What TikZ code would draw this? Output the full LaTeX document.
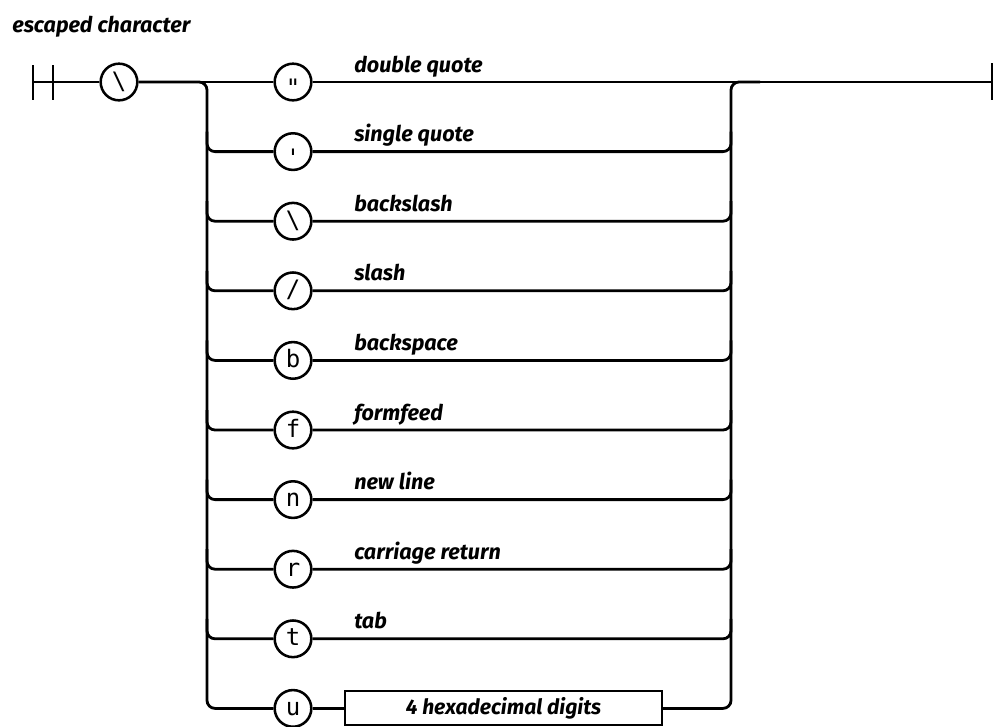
\documentclass[tikz,border=0pt]{standalone}
\usepackage{fontspec}
\newfontfamily\lblfont{Fira Sans}
\newfontfamily\chfont{DejaVu Sans Mono}
\begin{document}
\begin{tikzpicture}[x=0.75pt,y=-0.75pt,
  track/.style={line width=2.1pt, line join=round, line cap=butt},
  term/.style={circle, draw, line width=1.9pt, minimum size=27.5pt, inner sep=0pt,
    text height=12pt, text depth=1.5pt, font=\chfont\fontsize{18}{18}\selectfont},
  quoteterm/.style={term, text height=22pt, text depth=0pt},
  lbl/.style={anchor=base west, inner sep=0pt,
    font=\lblfont\bfseries\itshape\fontsize{16.2}{16.2}\selectfont},
  hexbox/.style={draw, line width=1.6pt, minimum width=237.75pt, minimum height=25.5pt,
    inner sep=0pt, font=\lblfont\bfseries\itshape\fontsize{15.8}{15.8}\selectfont}]
\useasboundingbox (0,0) rectangle (1005,726);

% title
\node[lbl] (title) at (12,32) {escaped character};

% start and end bars
\coordinate (s1t) at (33,65); \coordinate (s1b) at (33,100);
\coordinate (s2t) at (53,65); \coordinate (s2b) at (53,100);
\coordinate (s1) at (33,82);
\coordinate (et) at (992,63); \coordinate (eb) at (992,100);
\coordinate (e) at (992,82);
\draw[track] (s1t) -- (s1b);
\draw[track] (s2t) -- (s2b);

% terminals
\node[term] (esc) at (119,82) {\textbackslash};
\node[quoteterm] (c0) at (293,82) {\symbol{"22}};
\node[quoteterm] (c1) at (293,151.6) {\symbol{"27}};
\node[term] (c2) at (293,221.2) {\textbackslash};
\node[term] (c3) at (293,290.8) {/};
\node[term] (c4) at (293,360.4) {b};
\node[term] (c5) at (293,430) {f};
\node[term] (c6) at (293,499.6) {n};
\node[term] (c7) at (293,569.2) {r};
\node[term] (c8) at (293,638.8) {t};
\node[term] (c9) at (293,708.4) {u};
\node[hexbox] (hex) at (503.5,708.4) {4 hexadecimal digits};

% labels
\node[lbl] (l0) at (354,72) {double quote};
\node[lbl] (l1) at (354,141.6) {single quote};
\node[lbl] (l2) at (354,211.2) {backslash};
\node[lbl] (l3) at (354,280.8) {slash};
\node[lbl] (l4) at (354,350.4) {backspace};
\node[lbl] (l5) at (354,420) {formfeed};
\node[lbl] (l6) at (354,489.6) {new line};
\node[lbl] (l7) at (354,559.2) {carriage return};
\node[lbl] (l8) at (354,628.8) {tab};

% main line
\draw[track] (s1) -- (esc.west);
\draw[track] (esc.east) -- (c0.west);
\draw[track] (c0.east) -- (e);
\draw[track] (et) -- (eb);

% left split and right merge of rows 1..8
\draw[track, rounded corners=6pt] (esc.east) -- (207,82) -- (207,708.4) -- (c9.west);
\foreach \i/\y in {1/151.6,2/221.2,3/290.8,4/360.4,5/430,6/499.6,7/569.2,8/638.8}{
  \draw[track, rounded corners=6pt] (207,\y-20) -- (207,\y) -- (c\i.west);
  \draw[track, rounded corners=6pt] (c\i.east) -- (731,\y) -- (731,\y-20);
}
% bottom row
\draw[track] (c9.east) -- (hex.west);
% right merge
\draw[track, rounded corners=6pt] (hex.east) -- (731,708.4) -- (731,82) -- (760,82);
\end{tikzpicture}
\end{document}
